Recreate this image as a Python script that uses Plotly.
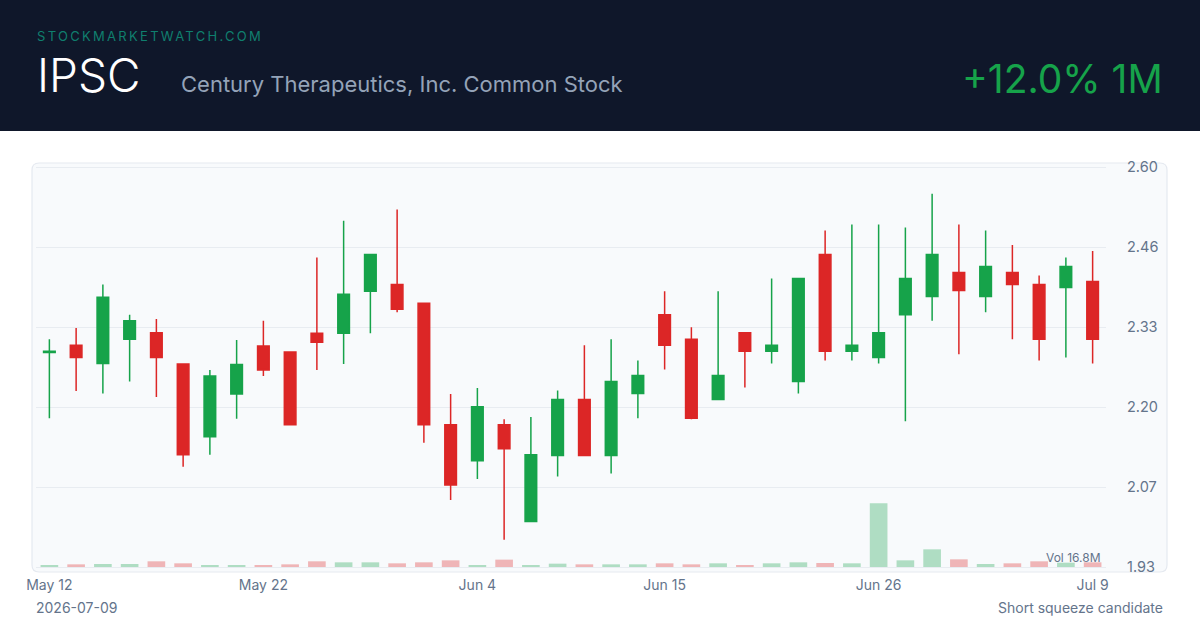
import plotly.graph_objects as go

# ---------------- data ----------------
dates = ["2026-05-12", "2026-05-13", "2026-05-14", "2026-05-15", "2026-05-18", "2026-05-19",
         "2026-05-20", "2026-05-21", "2026-05-22", "2026-05-26", "2026-05-27", "2026-05-28",
         "2026-05-29", "2026-06-01", "2026-06-02", "2026-06-03", "2026-06-04", "2026-06-05",
         "2026-06-08", "2026-06-09", "2026-06-10", "2026-06-11", "2026-06-12", "2026-06-15",
         "2026-06-16", "2026-06-17", "2026-06-18", "2026-06-22", "2026-06-23", "2026-06-24",
         "2026-06-25", "2026-06-26", "2026-06-29", "2026-06-30", "2026-07-01", "2026-07-02",
         "2026-07-06", "2026-07-07", "2026-07-08", "2026-07-09"]

opens = [2.289, 2.301, 2.271, 2.311, 2.322, 2.270, 2.149, 2.220, 2.300, 2.290,
         2.321, 2.321, 2.391, 2.402, 2.371, 2.169, 2.109, 2.169, 2.008, 2.118,
         2.211, 2.118, 2.221, 2.352, 2.311, 2.211, 2.322, 2.291, 2.241, 2.452,
         2.291, 2.281, 2.352, 2.382, 2.422, 2.382, 2.422, 2.402, 2.397, 2.407]
highs = [2.311, 2.330, 2.402, 2.352, 2.345, 2.271, 2.260, 2.310, 2.342, 2.291,
         2.447, 2.508, 2.452, 2.527, 2.371, 2.220, 2.230, 2.178, 2.182, 2.226,
         2.301, 2.311, 2.276, 2.391, 2.331, 2.391, 2.323, 2.412, 2.412, 2.492,
         2.502, 2.502, 2.497, 2.553, 2.502, 2.492, 2.468, 2.417, 2.447, 2.458]
lows = [2.180, 2.225, 2.221, 2.241, 2.215, 2.099, 2.119, 2.179, 2.250, 2.168,
        2.260, 2.270, 2.321, 2.356, 2.139, 2.044, 2.079, 1.978, 2.007, 2.083,
        2.117, 2.088, 2.180, 2.261, 2.178, 2.210, 2.231, 2.271, 2.221, 2.276,
        2.276, 2.271, 2.175, 2.342, 2.286, 2.356, 2.311, 2.276, 2.281, 2.271]
closes = [2.291, 2.281, 2.381, 2.342, 2.281, 2.119, 2.250, 2.269, 2.260, 2.169,
          2.306, 2.386, 2.452, 2.361, 2.169, 2.069, 2.199, 2.129, 2.119, 2.211,
          2.118, 2.241, 2.251, 2.301, 2.180, 2.251, 2.291, 2.301, 2.412, 2.291,
          2.301, 2.322, 2.412, 2.452, 2.392, 2.432, 2.402, 2.311, 2.432, 2.311]
volumes_m = [0.53, 0.70, 0.79, 0.79, 1.50, 0.97, 0.53, 0.53, 0.53, 0.70,
             1.50, 1.23, 1.23, 0.97, 1.23, 1.76, 0.53, 1.94, 0.53, 0.88,
             0.70, 0.70, 0.70, 0.97, 0.70, 0.97, 0.53, 0.97, 1.23, 1.06,
             0.97, 16.8, 1.76, 4.66, 2.02, 0.79, 0.97, 1.50, 1.14, 1.23]

price_tickvals = [1.9325, 2.0655, 2.1985, 2.3315, 2.4645, 2.5975]
price_ticktext = ["1.93", "2.07", "2.20", "2.33", "2.46", "2.60"]
date_tickvals = ["2026-05-12", "2026-05-22", "2026-06-04", "2026-06-15", "2026-06-26", "2026-07-09"]
date_ticktext = ["May 12", "May 22", "Jun 4", "Jun 15", "Jun 26", "Jul 9"]

ticker = "IPSC"
company = "Century Therapeutics, Inc. Common Stock"
brand = "STOCKMARKETWATCH.COM"
change_text = "+12.0% 1M"
vol_label = "Vol 16.8M"
date_label = "2026-07-09"
note_label = "Short squeeze candidate"

# ---------------- styling ----------------
GREEN = "#16a34a"
RED = "#dc2626"
FONT = "Inter, sans-serif"
MUTED = "#64748b"

W, H = 1200, 630
PX0, PX1 = 36, 1106      # plot area x (pixels)
PY0, PY1 = 165, 569      # plot area y (pixels, top / bottom)


def px(x):
    return (x - PX0) / (PX1 - PX0)


def py(y):
    return (PY1 - y) / (PY1 - PY0)


price_per_px = (price_tickvals[-1] - price_tickvals[0]) / 400.0
y_range = [price_tickvals[0] - 2 * price_per_px, price_tickvals[-1] + 2 * price_per_px]

vol_per_px = max(volumes_m) / 63.7
vol_range = [-2 * vol_per_px, vol_per_px * 402]

vol_colors = ["rgba(22,163,74,0.32)" if c >= o else "rgba(220,38,38,0.32)"
              for o, c in zip(opens, closes)]

fig = go.Figure()

fig.add_trace(go.Candlestick(
    x=dates, open=opens, high=highs, low=lows, close=closes,
    increasing=dict(line=dict(color=GREEN, width=1.5), fillcolor=GREEN),
    decreasing=dict(line=dict(color=RED, width=1.5), fillcolor=RED),
    whiskerwidth=0, showlegend=False, hoverinfo="skip", yaxis="y",
))

fig.add_trace(go.Bar(
    x=dates, y=volumes_m, marker=dict(color=vol_colors, line=dict(width=0)),
    width=0.66, showlegend=False, hoverinfo="skip", yaxis="y2",
))


def rounded_rect(x0, y0, x1, y1, r):
    rx = r / (PX1 - PX0)
    ry = r / (PY1 - PY0)
    X0, X1 = px(x0), px(x1)
    Y0, Y1 = py(y0), py(y1)
    return (f"M {X0 + rx},{Y0} L {X1 - rx},{Y0} Q {X1},{Y0} {X1},{Y0 - ry} "
            f"L {X1},{Y1 + ry} Q {X1},{Y1} {X1 - rx},{Y1} "
            f"L {X0 + rx},{Y1} Q {X0},{Y1} {X0},{Y1 + ry} "
            f"L {X0},{Y0 - ry} Q {X0},{Y0} {X0 + rx},{Y0} Z")

shapes = [
    dict(type="rect", xref="paper", yref="paper", x0=px(0), x1=px(W), y0=py(0), y1=py(131),
         fillcolor="#0f172a", line=dict(width=0), layer="below"),
    dict(type="path", xref="paper", yref="paper", path=rounded_rect(32, 163, 1167, 572, 7),
         fillcolor="#f8fafc", line=dict(color="#e5e9f0", width=1.2), layer="below"),
]

annotations = [
    dict(text=f'<span style="letter-spacing:2.3px">{brand}</span>', x=px(35), y=py(35.5),
         xref="paper", yref="paper", xanchor="left", yanchor="middle", showarrow=False,
         font=dict(family=FONT, size=13, color="#0f7f6e")),
    dict(text=ticker, x=px(35), y=py(75), xref="paper", yref="paper", xanchor="left",
         yanchor="middle", showarrow=False,
         font=dict(family=FONT, size=46, color="#ffffff", weight=300)),
    dict(text=company, x=px(179), y=py(84), xref="paper", yref="paper", xanchor="left",
         yanchor="middle", showarrow=False,
         font=dict(family=FONT, size=22, color="#94a3b8")),
    dict(text=change_text, x=px(1165), y=py(78.5), xref="paper", yref="paper", xanchor="right",
         yanchor="middle", showarrow=False,
         font=dict(family=FONT, size=39, color=GREEN)),
    dict(text=vol_label, x=px(1103), y=py(557), xref="paper", yref="paper", xanchor="right",
         yanchor="middle", showarrow=False,
         font=dict(family=FONT, size=12, color=MUTED)),
    dict(text=date_label, x=px(34), y=py(607), xref="paper", yref="paper", xanchor="left",
         yanchor="middle", showarrow=False,
         font=dict(family=FONT, size=14, color=MUTED)),
    dict(text=note_label, x=px(1165), y=py(607), xref="paper", yref="paper", xanchor="right",
         yanchor="middle", showarrow=False,
         font=dict(family=FONT, size=14, color=MUTED)),
]

fig.update_layout(
    width=W, height=H,
    margin=dict(l=PX0, r=W - PX1, t=PY0, b=H - PY1, pad=0),
    paper_bgcolor="#ffffff", plot_bgcolor="rgba(0,0,0,0)",
    boxgap=0.38,
    shapes=shapes, annotations=annotations,
    xaxis=dict(type="category", range=[-0.5, len(dates) - 0.5], rangeslider=dict(visible=False),
               tickmode="array", tickvals=date_tickvals, ticktext=date_ticktext,
               showgrid=False, zeroline=False, showline=False, ticks="",
               tickfont=dict(family=FONT, size=14, color=MUTED), ticklabelstandoff=6),
    yaxis=dict(range=y_range, side="right", tickmode="array", tickvals=price_tickvals,
               ticktext=price_ticktext, showgrid=True, gridcolor="#e8ecf1", gridwidth=1.2,
               zeroline=False, showline=False, ticks="",
               tickfont=dict(family=FONT, size=14.5, color=MUTED), ticklabelstandoff=20),
    yaxis2=dict(range=vol_range, overlaying="y", side="left", visible=False,
                showgrid=False, zeroline=False),
    bargap=0.34,
)

fig.write_html("out.html")
